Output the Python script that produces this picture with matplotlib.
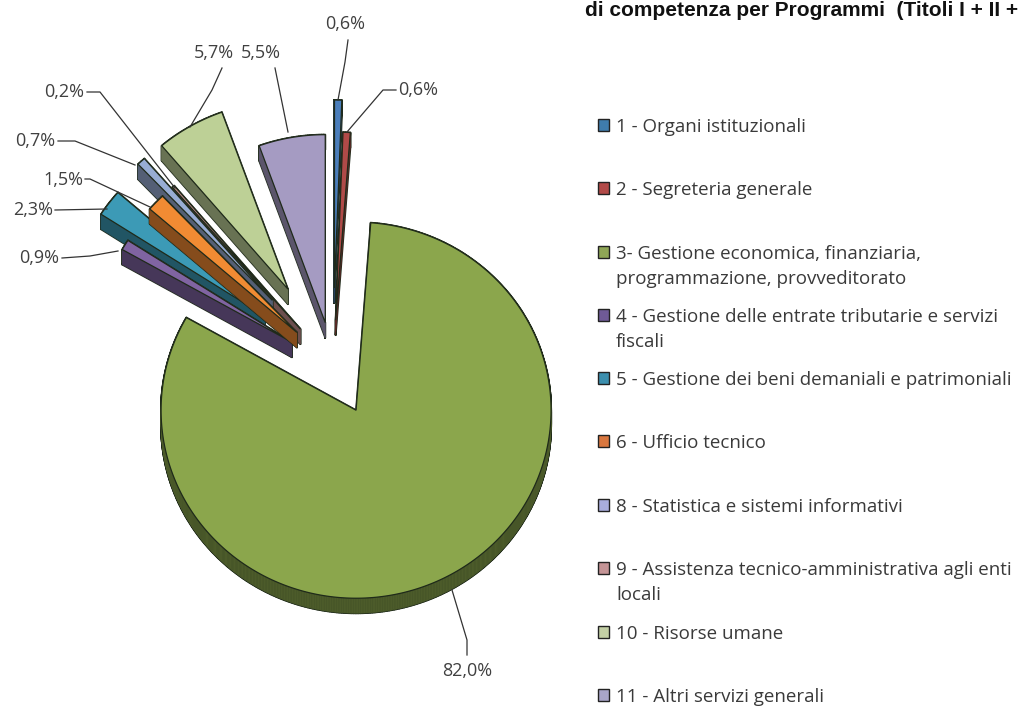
import numpy as np
import matplotlib
matplotlib.use("Agg")
import matplotlib.pyplot as plt

categories = ["1 - Organi istituzionali", "2 - Segreteria generale",
              "3- Gestione economica, finanziaria,\nprogrammazione, provveditorato",
              "4 - Gestione delle entrate tributarie e servizi\nfiscali",
              "5 - Gestione dei beni demaniali e patrimoniali", "6 - Ufficio tecnico",
              "8 - Statistica e sistemi informativi",
              "9 - Assistenza tecnico-amministrativa agli enti\nlocali",
              "10 - Risorse umane", "11 - Altri servizi generali"]
values = [0.6, 0.6, 82.0, 0.9, 2.3, 1.5, 0.7, 0.2, 5.7, 5.5]
explode = [79, 47, 49, 48, 85, 50, 90, 50, 90, 45]
colors = ["#4A7EBB", "#B04A48", "#8BA64C", "#8064A2", "#3C9AB6", "#F18B33",
          "#98ADD4", "#C48F8E", "#BDD096", "#A59BC2"]
legend_colors = ["#3F7CAC", "#B24A48", "#8FA656", "#6F5A96", "#3C8FAE", "#D9773F",
                 "#A9ADDC", "#C49496", "#C3CFA5", "#A9A5C8"]
side_factor = 0.55
draw_order = [8, 9, 0, 1, 7, 6, 4, 3, 5, 2]

label_text = ["0,6%", "0,6%", "82,0%", "0,9%", "2,3%", "1,5%", "0,7%", "0,2%", "5,7%", "5,5%"]
label_pos = [(345, 24), (418, 90), (467, 671), (39, 258), (33, 210), (63, 180),
             (35, 141), (64, 92), (214, 53), (261, 53)]
leaders = [[(348, 40), (345, 62), (338, 100)],
           [(347, 132), (383, 90), (396, 90)],
           [(452, 590), (467, 640), (467, 655)],
           [(62, 258), (90, 256), (118, 251)],
           [(55, 210), (107, 209)],
           [(85, 179), (90, 179), (150, 207)],
           [(58, 141), (75, 141), (135, 165)],
           [(87, 92), (100, 92), (175, 188)],
           [(222, 68), (212, 90), (190, 127)],
           [(275, 68), (288, 132)]]
legend_y = [125, 188, 252, 315, 378, 441, 505, 568, 632, 695]
LEGEND_LINE = 25

CX, CY = 333, 367
RX, RY = 195, 188
DEPTH = 15
EDGE = "#1f2a1a"
LABEL_COLOR = "#404040"
FONT = ["Open Sans", "DejaVu Sans"]

fig = plt.figure(figsize=(10.23, 7.06), dpi=100)
ax = fig.add_axes([0, 0, 1, 1])
ax.set_xlim(0, 1023)
ax.set_ylim(706, 0)
ax.axis("off")


def darken(color, f):
    r, g, b = matplotlib.colors.to_rgb(color)
    return (r * f, g * f, b * f)


fracs = np.array(values) / sum(values) * 360.0
starts = np.concatenate([[0], np.cumsum(fracs)[:-1]])

z = 2
for i in draw_order:
    a0, a1 = starts[i], starts[i] + fracs[i]
    mid = np.radians((a0 + a1) / 2)
    ax_x = CX + explode[i] * np.sin(mid)
    ax_y = CY - explode[i] * np.cos(mid)
    th = np.radians(np.linspace(a0, a1, max(4, int(fracs[i] * 2))))
    xs = np.concatenate([[ax_x], ax_x + RX * np.sin(th)])
    ys = np.concatenate([[ax_y], ax_y - RY * np.cos(th)])
    side = darken(colors[i], side_factor)
    n = len(xs)
    quads = [([xs[k], xs[(k + 1) % n], xs[(k + 1) % n], xs[k]],
              [ys[k], ys[(k + 1) % n], ys[(k + 1) % n] + DEPTH, ys[k] + DEPTH]) for k in range(n)]
    for qx, qy in quads:
        ax.fill(qx, qy, facecolor=EDGE, edgecolor=EDGE, lw=1.4, zorder=z, joinstyle="round")
    z += 1
    for qx, qy in quads:
        ax.fill(qx, qy, facecolor=side, edgecolor=side, lw=0.3, zorder=z)
    z += 1
    ax.fill(xs, ys, facecolor=colors[i], edgecolor=EDGE, lw=0.9, zorder=z, joinstyle="miter")
    z += 1

for pts in leaders:
    px, py = zip(*pts)
    ax.plot(px, py, color="#333333", lw=0.9, zorder=z)

for t, (x, y) in zip(label_text, label_pos):
    ax.text(x, y, t, ha="center", va="center", fontsize=13.0, color=LABEL_COLOR, family=FONT, zorder=z + 1)

for c, col, y in zip(categories, legend_colors, legend_y):
    ax.add_patch(plt.Rectangle((598, y - 6), 11, 12, facecolor=col, edgecolor="#222222", lw=1.0, zorder=z))
    for j, line in enumerate(c.split("\n")):
        ax.text(616, y + j * LEGEND_LINE, line, ha="left", va="center_baseline", fontsize=13.5,
                color="#3a3a3a", family=FONT, zorder=z)

ax.text(585, 10, "di competenza per Programmi  (Titoli I + II +", ha="left", va="center",
        fontsize=15.0, fontweight="bold", color="#111111", family=["Liberation Sans", "DejaVu Sans"], zorder=z)

fig.savefig("out.png", dpi=100, facecolor="white")
